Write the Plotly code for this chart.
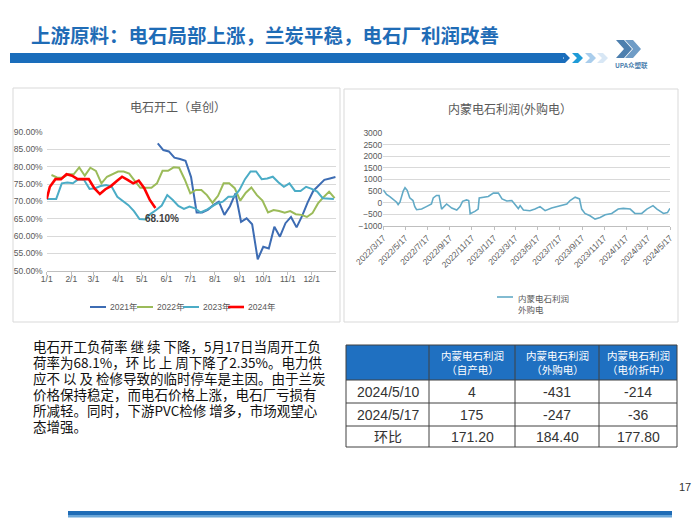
import plotly.graph_objects as go
import pandas as pd

# ---------------- data ----------------
month_labels = ["1/1", "2/1", "3/1", "4/1", "5/1", "6/1", "7/1", "8/1", "9/1", "10/1", "11/1", "12/1"]

series_names = ["2021年", "2022年", "2023年", "2024年"]
series_colors = ["#3d6cb3", "#9bbb59", "#4bacc6", "#ff0000"]

# weekly (Friday) readings of 电石开工 (%)
start_2021 = "2021-05-21"
rate_2021 = [86.7, 84.8, 84.4, 82.6, 82.2, 81.7, 77.0, 66.8, 66.8, 67.5, 68.9, 69.9, 66.1, 68.6,
             72.3, 64.1, 65.1, 63.4, 53.3, 56.9, 56.4, 62.7, 59.8, 63.7, 65.5, 62.5, 65.8, 69.7,
             73.0, 74.5, 76.2, 76.6, 77.0]
start_2022 = "2022-01-07"
rate_2022 = [77.6, 76.9, 76.8, 77.8, 77.8, 79.8, 77.4, 79.7, 78.8, 75.2,
             77.1, 77.8, 78.6, 78.6, 78.0, 75.9, 73.9, 73.9, 73.9, 75.2,
             78.8, 78.8, 79.8, 79.7, 76.3, 72.3, 73.3, 73.3, 71.8, 69.6,
             71.6, 75.2, 75.2, 73.8, 70.2, 72.5, 74.0, 71.8, 70.2, 66.8,
             67.5, 67.2, 66.7, 67.2, 66.3, 66.1, 65.5, 66.6, 69.4, 71.2,
             72.8, 70.9]
first_2023 = ("2023-01-01", 70.7)
start_2023 = "2023-01-06"
rate_2023 = [70.7, 70.7, 75.2, 75.4, 75.2, 76.4, 76.2, 73.6, 73.8, 74.4,
             74.7, 74.2, 71.3, 70.2, 68.9, 67.2, 64.9, 64.8, 66.4, 67.5,
             68.8, 71.8, 70.4, 68.7, 67.8, 68.5, 68.0, 66.8, 67.5, 68.5,
             69.4, 69.9, 71.3, 71.3, 73.3, 76.4, 78.6, 78.6, 76.4, 76.6,
             77.1, 75.5, 74.2, 75.2, 73.0, 73.0, 74.2, 73.6, 72.8, 70.9,
             70.7, 70.7]
first_2024 = ("2024-01-01", 70.7)
start_2024 = "2024-01-05"
rate_2024 = [74.2, 76.4, 76.4, 77.8, 77.4, 76.4, 76.4, 76.4, 73.8, 72.1,
             73.5, 74.4, 75.8, 77.1, 76.2, 75.2, 76.0, 73.8, 70.4, 68.1]

# 内蒙电石利润(外购电)
profit_dates = ["2022-03-17", "2022-03-26", "2022-04-04", "2022-04-13", "2022-04-23", "2022-04-27",
                "2022-05-02", "2022-05-11", "2022-05-16", "2022-05-22", "2022-05-29", "2022-06-07",
                "2022-06-12", "2022-06-17", "2022-07-01", "2022-07-14", "2022-07-28", "2022-08-02",
                "2022-08-11", "2022-08-18", "2022-08-25", "2022-09-08", "2022-09-22", "2022-10-06",
                "2022-10-15", "2022-10-22", "2022-11-02", "2022-11-08", "2022-11-12", "2022-11-25",
                "2022-12-04", "2022-12-07", "2022-12-18", "2023-01-01", "2023-01-15", "2023-01-29",
                "2023-02-08", "2023-02-21", "2023-03-07", "2023-03-21", "2023-03-25", "2023-03-30",
                "2023-04-08", "2023-04-26", "2023-05-10", "2023-05-24", "2023-06-07", "2023-06-25",
                "2023-07-09", "2023-07-23", "2023-08-06", "2023-08-15", "2023-08-29", "2023-09-10",
                "2023-09-16", "2023-09-25", "2023-10-09", "2023-10-23", "2023-11-06", "2023-11-20",
                "2023-12-08", "2023-12-26", "2024-01-09", "2024-01-28", "2024-02-10", "2024-02-29",
                "2024-03-14", "2024-03-31", "2024-04-11", "2024-04-29", "2024-05-10", "2024-05-17"]
profit_values = [550, 350, 260, 160, 15, -90, 15, 500, 645, 530, 205, 90,
                 -175, -310, -280, -175, -60, 205, 310, 310, -280, -60, -235, -320,
                 -175, 55, 115, 90, -480, -380, -280, 205, 235, 265, 410, 410,
                 160, 70, 90, -175, -260, -130, -320, -350, -280, -175, -350, -235,
                 -175, -130, -60, 90, 235, 160, -280, -470, -570, -715, -645, -530,
                 -470, -280, -250, -280, -470, -470, -280, -130, -280, -470, -431, -247]
profit_ticks = ["2022-03-17", "2022-05-17", "2022-07-17", "2022-09-17", "2022-11-17", "2023-01-17",
                "2023-03-17", "2023-05-17", "2023-07-17", "2023-09-17", "2023-11-17", "2024-01-17",
                "2024-03-17", "2024-05-17"]

# table
table_header = ["", "内蒙电石利润<br>（自产电）", "内蒙电石利润<br>（外购电）", "内蒙电石利润<br>（电价折中）"]
table_rows = ["2024/5/10", "2024/5/17", "环比"]
table_self = ["4", "175", "171.20"]
table_bought = ["-431", "-247", "184.40"]
table_mid = ["-214", "-36", "177.80"]

paragraph = [
    "电石开工负荷率 继 续 下降，5月17日当周开工负",
    "荷率为68.1%，环 比 上 周下降了2.35%。电力供",
    "应不 以 及 检修导致的临时停车是主因。由于兰炭",
    "价格保持稳定，而电石价格上涨，电石厂亏损有",
    "所减轻。同时，下游PVC检修 增多，市场观望心",
    "态增强。",
]

# ---------------- helpers ----------------
W, H = 700, 525


def px(x):
    return x / W


def py(y):
    return 1 - y / H


def week_pos(dates):
    out = []
    for d in dates:
        d = pd.Timestamp(d)
        out.append((d - pd.Timestamp(year=d.year, month=1, day=1)).days / 7)
    return out


def weekly(start, n):
    return list(pd.date_range(start, periods=n, freq="7D"))


d2021 = weekly(start_2021, len(rate_2021))
d2022 = weekly(start_2022, len(rate_2022))
d2023 = [pd.Timestamp(first_2023[0])] + weekly(start_2023, len(rate_2023))
v2023 = [first_2023[1]] + rate_2023
d2024 = [pd.Timestamp(first_2024[0])] + weekly(start_2024, len(rate_2024))
v2024 = [first_2024[1]] + rate_2024

series = [(d2021, rate_2021), (d2022, rate_2022), (d2023, v2023), (d2024, v2024)]
widths = [2, 2, 2, 2.6]

month_pos = [(pd.Timestamp(2021, i + 1, 1).dayofyear - 1) / 7 for i in range(12)]

NUM_FONT = "Liberation Sans, Arial, Noto Sans CJK SC, sans-serif"
CJK = "Noto Sans CJK SC, sans-serif"
GRAY = "#595959"

fig = go.Figure()

for (ds, vs), name, col, w in zip(series, series_names, series_colors, widths):
    fig.add_trace(go.Scatter(x=week_pos(ds), y=vs, mode="lines", name=name,
                             line=dict(color=col, width=w), xaxis="x", yaxis="y",
                             showlegend=False))

fig.add_trace(go.Scatter(x=profit_dates, y=profit_values, mode="lines", name="内蒙电石利润外购电",
                         line=dict(color="#62aac6", width=1.6), xaxis="x2", yaxis="y2",
                         showlegend=False))

shapes = []
annotations = []


def ann(text, x, y, size, color, family=CJK, xanchor="center", yanchor="middle", align="center"):
    annotations.append(dict(text=text, x=px(x), y=py(y), xref="paper", yref="paper",
                            xanchor=xanchor, yanchor=yanchor, showarrow=False, align=align,
                            font=dict(family=family, size=size, color=color)))


def rect(x0, y0, x1, y1, fill, line_color=None, lw=0, layer="above"):
    shapes.append(dict(type="rect", xref="paper", yref="paper", x0=px(x0), x1=px(x1), y0=py(y1), y1=py(y0),
                       fillcolor=fill, line=dict(color=line_color or fill, width=lw), layer=layer))


def hline(x0, x1, y, color, w=1):
    shapes.append(dict(type="line", xref="paper", yref="paper", x0=px(x0), x1=px(x1), y0=py(y), y1=py(y),
                       line=dict(color=color, width=w)))


def vline(x, y0, y1, color, w=1):
    shapes.append(dict(type="line", xref="paper", yref="paper", x0=px(x), x1=px(x), y0=py(y0), y1=py(y1),
                       line=dict(color=color, width=w)))


# title and header bar
ann("<b>上游原料：电石局部上涨，兰炭平稳，电石厂利润改善</b>", 29, 35, 19.5, "#1f6cb6", xanchor="left")
rect(10, 53, 563, 63, "#1a6dbb")


def poly(xs, ys):
    return "M " + " L ".join(f"{px(a)},{py(b)}" for a, b in zip(xs, ys)) + " Z"


def chevron(x0, color, w=11, t=6):
    xs = [x0, x0 + t, x0 + w, x0 + t, x0, x0 + w - t]
    ys = [53, 53, 58, 63, 63, 58]
    return dict(type="path", xref="paper", yref="paper", path=poly(xs, ys), fillcolor=color, line=dict(width=0))


shapes.append(chevron(559, "#1a6dbb"))
shapes.append(chevron(572, "#1e9bd7"))
shapes.append(chevron(585, "#a9cdec"))
shapes.append(chevron(597, "#d8e7f5"))

# logo
for off, col in ((0, "#4d7fae"), (9, "#6f9cc6")):
    xs = [616 + off, 624 + off, 632 + off, 624 + off, 616 + off, 624 + off]
    ys = [40, 40, 49, 58, 58, 49]
    shapes.append(dict(type="path", xref="paper", yref="paper", path=poly(xs, ys),
                       fillcolor=col, line=dict(width=0)))
ann("<b>UPA众塑联</b>", 631, 65, 6.5, "#4d7fae")

# panels
rect(13, 88, 340, 322, "rgba(0,0,0,0)", "#d9d9d9", 1, layer="below")
rect(344, 89, 678, 322, "rgba(0,0,0,0)", "#d9d9d9", 1, layer="below")

ann("电石开工（卓创）", 178, 107, 12, GRAY)
ann("内蒙电石利润(外购电）", 510, 108, 12, GRAY)

# data label of last 2024 point
last_x = week_pos(d2024)[-1]
last_v = v2024[-1]
annotations.append(dict(text=f"<b>{last_v:.2f}%</b>", x=last_x, y=last_v, xref="x", yref="y",
                        xanchor="center", yanchor="middle",
                        showarrow=False, xshift=7, yshift=-11,
                        font=dict(family=NUM_FONT, size=10, color="#404040")))

# left legend
leg_x = [90, 137, 183, 228]
for lx, name, col, w in zip(leg_x, series_names, series_colors, widths):
    hline(lx, lx + 16, 307, col, w)
    ann(name, lx + 18, 307, 8.5, GRAY, family=NUM_FONT, xanchor="left")

# right legend
hline(497, 513, 297, "#62aac6", 1.6)
ann("内蒙电石利润<br>外购电", 516, 290, 8.5, GRAY, xanchor="left", yanchor="top", align="left")

# paragraph
for i, line in enumerate(paragraph):
    ann(line, 31, 346 + 16 * i, 13.5, "#111111", xanchor="left")

# table
col_edges = [346, 429, 515, 599, 677]
row_edges = [345, 380, 403, 426, 447]
rect(col_edges[0], row_edges[0], col_edges[-1], row_edges[1], "#1f70c1")
columns = [table_rows, table_self, table_bought, table_mid]
for c in range(4):
    cx = (col_edges[c] + col_edges[c + 1]) / 2
    if table_header[c]:
        ann(table_header[c], cx, (row_edges[0] + row_edges[1]) / 2, 10.5, "white")
    for r, val in enumerate(columns[c]):
        cy = (row_edges[r + 1] + row_edges[r + 2]) / 2
        ann(val, cx, cy, 14, "#333333", family="Liberation Sans, Noto Sans CJK SC, sans-serif")
for yb in row_edges:
    hline(col_edges[0], col_edges[-1], yb, "#404040", 1)
for xb in col_edges:
    vline(xb, row_edges[0], row_edges[-1], "#404040", 1)

# footer
rect(68, 511, 672, 515, "#1f6cb6")
rect(68, 515, 672, 517.5, "#6aa6d8")
ann("17", 685, 487, 11, "#333333", family="Liberation Sans, sans-serif")

fig.update_layout(
    width=W, height=H, margin=dict(l=0, r=0, t=0, b=0, pad=0, autoexpand=False),
    paper_bgcolor="white", plot_bgcolor="white", showlegend=False,
    shapes=shapes, annotations=annotations,
    xaxis=dict(domain=[px(46.7), px(336)], range=[0, 52.1], tickmode="array", automargin=False,
               tickvals=month_pos, ticktext=month_labels, showgrid=False, zeroline=False,
               showline=True, linecolor="#bfbfbf", ticks="outside", ticklen=3, tickcolor="#bfbfbf",
               ticklabelstandoff=-3,
               tickfont=dict(family=NUM_FONT, size=8.5, color=GRAY), fixedrange=True),
    yaxis=dict(domain=[py(270.7), py(132)], range=[50, 90], dtick=5, tick0=50, automargin=False,
               tickformat=".2f", ticksuffix="%", showgrid=True, gridcolor="#d9d9d9", gridwidth=1,
               zeroline=False, showline=False, ticks="", ticklabelstandoff=3,
               tickfont=dict(family=NUM_FONT, size=8.5, color=GRAY), fixedrange=True),
    xaxis2=dict(domain=[px(383.3), px(670)], type="date", range=["2022-03-17", "2024-05-17"],
                tickmode="array", tickvals=profit_ticks, automargin=False,
                ticktext=[f"{pd.Timestamp(t).year}/{pd.Timestamp(t).month}/{pd.Timestamp(t).day}" for t in profit_ticks],
                tickangle=-45, showgrid=False, zeroline=False, showline=True, linecolor="#bfbfbf",
                ticks="outside", ticklen=3, tickcolor="#bfbfbf", anchor="y2",
                tickfont=dict(family=NUM_FONT, size=8.5, color=GRAY), fixedrange=True),
    yaxis2=dict(domain=[py(225.7), py(133.3)], range=[-1000, 3000], dtick=500, tick0=-1000,
                showgrid=True, gridcolor="#d9d9d9", gridwidth=1, zeroline=False, showline=False,
                ticks="", anchor="x2", automargin=False,
                tickfont=dict(family=NUM_FONT, size=8.5, color=GRAY), fixedrange=True),
)

fig.write_html("out.html", config={"displayModeBar": False},
               post_script="document.body.style.margin='0';document.body.style.overflow='hidden';")
